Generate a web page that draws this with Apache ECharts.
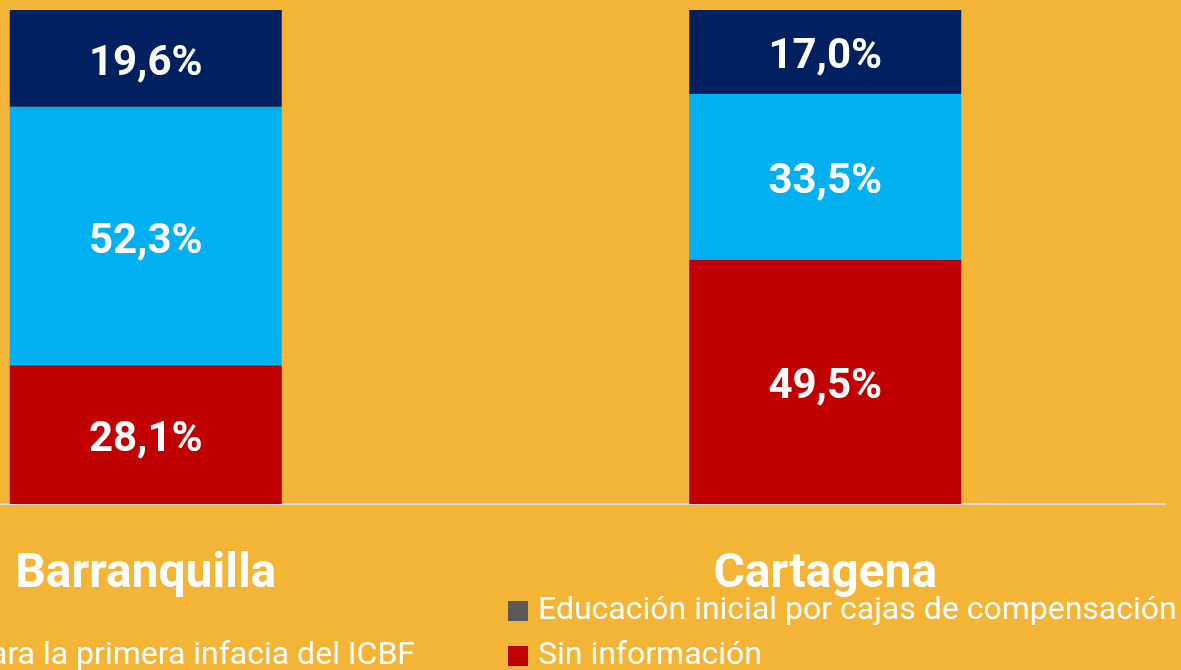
<!DOCTYPE html>
<html>
<head>
<meta charset="utf-8">
<script src="https://cdn.jsdelivr.net/npm/echarts@6/dist/echarts.min.js"></script>
<style>
  html, body { margin: 0; padding: 0; background: #F4B436; }
  #chart { width: 1181px; height: 670px; }
</style>
</head>
<body>
<div id="chart"></div>
<script>
(function() {
  // ciudades y porcentajes (apilado de abajo hacia arriba)
  var ciudades = ["Barranquilla", "Cartagena"];
  var sinInformacion = [28.1, 49.5];
  var icbf = [52.3, 33.5];
  var otra = [19.6, 17.0];
  var cajas = ["-", "-"];

  var nombreIcbf = "Modalidades para la primera infacia del ICBF";
  var nombreCajas = "Educación inicial por cajas de compensación";
  var nombreSin = "Sin información";
  var nombreOtra = "Otra modalidad";

  var myChart = echarts.init(document.getElementById("chart"));

  var etiqueta = {
    show: true,
    position: "inside",
    offset: [0, 6],
    color: "#fff",
    fontFamily: "Roboto",
    fontWeight: "bold",
    fontSize: 42,
    formatter: function(p) {
      if (p.value === "-" || p.value == null) return "";
      return p.value.toFixed(1).replace(".", ",") + "%";
    }
  };

  var textoLeyenda = {
    color: "#fff",
    fontFamily: "Roboto",
    fontSize: 32,
    lineHeight: 32,
    padding: [0, 0, 0, 5]
  };

  // una leyenda por elemento, cada una en su sitio
  function leyenda(nombre, pos) {
    var l = {
      top: pos.top,
      padding: 0,
      itemWidth: 20,
      itemHeight: 20,
      icon: "rect",
      data: [nombre],
      textStyle: textoLeyenda
    };
    if (pos.left != null) l.left = pos.left;
    if (pos.right != null) l.right = pos.right;
    return l;
  }

  function serie(nombre, datos, color) {
    return {
      name: nombre,
      type: "bar",
      stack: "total",
      barWidth: 272,
      itemStyle: { color: color },
      label: etiqueta,
      data: datos
    };
  }

  var option = {
    backgroundColor: "#F4B436",
    animation: false,
    grid: { left: -194, right: 16, top: 10, bottom: 166, outerBoundsMode: "none", containLabel: false },
    legend: [
      leyenda(nombreIcbf, { right: 766, top: 640 }),
      leyenda(nombreCajas, { left: 508, top: 595 }),
      leyenda(nombreSin, { left: 508, top: 640 })
    ],
    xAxis: {
      type: "category",
      data: ciudades,
      axisTick: { show: false },
      axisLine: { lineStyle: { color: "#D9D9D9", width: 2 } },
      axisLabel: {
        margin: 47,
        color: "#fff",
        fontFamily: "Roboto",
        fontWeight: "bold",
        fontSize: 48
      }
    },
    yAxis: {
      type: "value",
      min: 0,
      max: 100,
      show: false,
      splitLine: { show: false }
    },
    series: [
      serie(nombreSin, sinInformacion, "#C00000"),
      serie(nombreIcbf, icbf, "#00B0F0"),
      serie(nombreOtra, otra, "#002060"),
      serie(nombreCajas, cajas, "#595959")
    ]
  };
  myChart.setOption(option);
})();
</script>
</body>
</html>
